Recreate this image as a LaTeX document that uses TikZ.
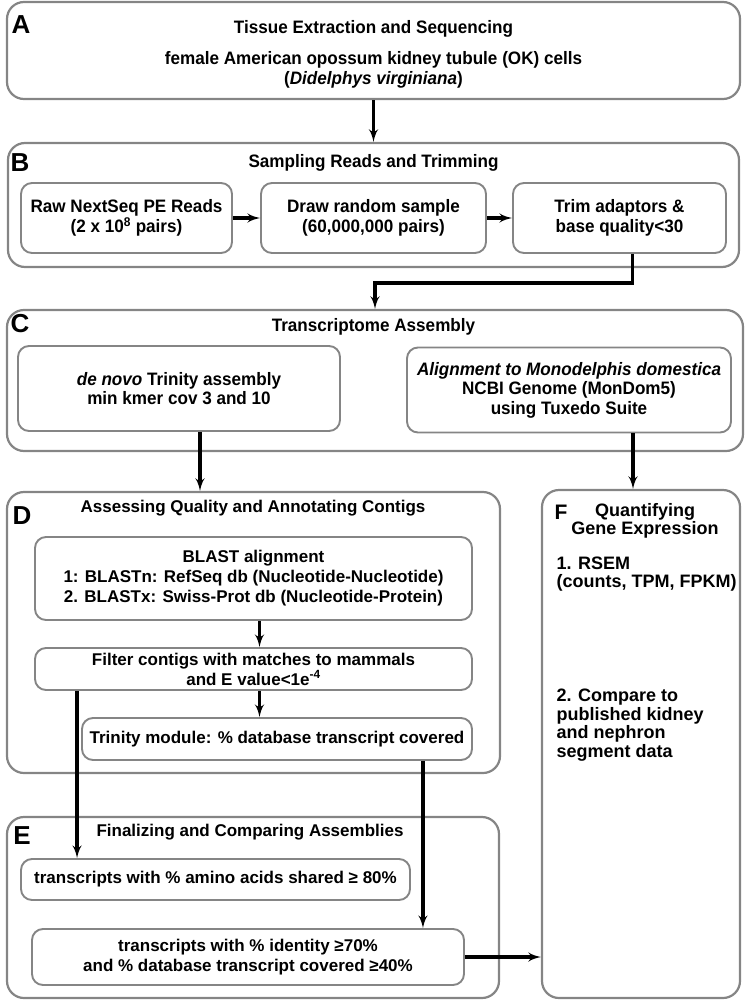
\documentclass[tikz,border=0pt]{standalone}
\usepackage{fontspec}
\setmainfont{Liberation Sans}
\newfontfamily\narrowsf[FakeStretch=0.95]{Liberation Sans}
\usetikzlibrary{arrows,shapes}

\newcommand{\abcfont}{\narrowsf\bfseries\fontsize{18}{19.5}\selectfont}
\newcommand{\deffont}{\bfseries\fontsize{17}{20}\selectfont}
\newcommand{\ffont}{\bfseries\fontsize{18}{18.5}\selectfont}

\begin{document}
\begin{tikzpicture}[x=1pt,y=-1pt,>=latex']
  \tikzstyle{stage}=[draw=black!48,line width=2.2pt,rounded corners=17pt,inner sep=0pt]
  \tikzstyle{task}=[draw=black!48,line width=1.9pt,rounded corners=11pt,inner sep=0pt,align=center]
  \tikzstyle{tag}=[font=\bfseries\fontsize{26}{26}\selectfont]
  \tikzstyle{flow}=[->,line width=3.3pt]
  \useasboundingbox (0,0) rectangle (746,1001);

  % A
  \node [stage,minimum width=733,minimum height=97] (A) at (373.5,50.5) {};
  \node [tag] (tagA) at (21,25) {A};
  \node [font=\abcfont] (titleA) at (373.5,29) {Tissue Extraction and Sequencing};
  \node [font=\abcfont,align=center] (cells) at (373.5,70)
    {female American opossum kidney tubule (OK) cells\\(\textit{Didelphys virginiana})};

  % B
  \node [stage,minimum width=731,minimum height=124] (B) at (373.5,205) {};
  \node [tag] (tagB) at (20,163) {B};
  \node [font=\abcfont] (titleB) at (373.5,163) {Sampling Reads and Trimming};
  \node [task,font=\abcfont,minimum width=211,minimum height=70] (raw) at (126.5,218)
    {Raw NextSeq PE Reads\\(2 x 10\textsuperscript{8} pairs)};
  \node [task,font=\abcfont,minimum width=225,minimum height=70] (sample) at (373.5,218)
    {Draw random sample\\(60,000,000 pairs)};
  \node [task,font=\abcfont,minimum width=213,minimum height=70] (trim) at (619.5,218)
    {Trim adaptors \&\\base quality<30};

  % C
  \node [stage,minimum width=736,minimum height=141] (C) at (375,380.5) {};
  \node [tag] (tagC) at (20,324) {C};
  \node [font=\abcfont] (titleC) at (373.5,327) {Transcriptome Assembly};
  \node [task,font=\abcfont,minimum width=322,minimum height=85] (trinity) at (179,388.5)
    {\textit{de novo} Trinity assembly\\min kmer cov 3 and 10};
  \node [task,font=\abcfont,minimum width=324,minimum height=85] (tuxedo) at (569,390)
    {\textit{Alignment to Monodelphis domestica}\\NCBI Genome (MonDom5)\\using Tuxedo Suite};

  % D
  \node [stage,minimum width=493,minimum height=281] (D) at (253.5,632.5) {};
  \node [tag] (tagD) at (22,516) {D};
  \node [font=\deffont] (titleD) at (253,508) {Assessing Quality and Annotating Contigs};
  \node [task,font=\deffont,minimum width=437,minimum height=83] (blast) at (253.5,578.5)
    {BLAST alignment\\1: BLASTn: RefSeq db (Nucleotide-Nucleotide)\\2. BLASTx: Swiss-Prot db (Nucleotide-Protein)};
  \node [task,font=\deffont,minimum width=437,minimum height=42] (filter) at (253.5,669)
    {Filter contigs with matches to mammals\\and E value<1e\textsuperscript{-4}};
  \node [task,font=\deffont,minimum width=390,minimum height=42] (module) at (277,739)
    {Trinity module: \% database transcript covered};

  % E
  \node [stage,minimum width=492,minimum height=181] (E) at (253,907.5) {};
  \node [tag] (tagE) at (22,836) {E};
  \node [font=\deffont] (titleE) at (250,832) {Finalizing and Comparing Assemblies};
  \node [task,font=\deffont,minimum width=389,minimum height=41] (amino) at (215.5,879.5)
    {transcripts with \% amino acids shared ≥ 80\%};
  \node [task,font=\deffont,minimum width=432,minimum height=56] (identity) at (248,957)
    {transcripts with \% identity ≥70\%\\and \% database transcript covered ≥40\%};

  % F
  \node [stage,minimum width=198,minimum height=508] (F) at (641,744) {};
  \node [font=\bfseries\fontsize{21}{21}\selectfont] (tagF) at (561,512) {F};
  \node [font=\ffont,align=center] (titleF) at (645,521) {Quantifying\\Gene Expression};
  \node [font=\ffont,align=left,anchor=west] (rsem) at (553,574)
    {1. RSEM\\(counts, TPM, FPKM)};
  \node [font=\ffont,align=left,anchor=west] (compare) at (553,725)
    {2. Compare to\\published kidney\\and nephron\\segment data};

  % connectors
  \coordinate (bend) at (375,283);
  \draw [flow] (A) -- (B);
  \draw [flow] (raw) -- (sample);
  \draw [flow] (sample) -- (trim);
  \draw [flow] ([xshift=13pt]trim.south) |- (bend) -- (C.north);
  \draw [flow] ([xshift=21pt]trinity.south) -- ([xshift=21pt]trinity.south |- D.north);
  \draw [flow] ([xshift=64pt]tuxedo.south) -- ([xshift=64pt]tuxedo.south |- F.north);
  \draw [flow] ([xshift=6pt]blast.south) -- ([xshift=6pt]blast.south |- filter.north);
  \draw [flow] ([xshift=6pt]filter.south) -- ([xshift=6pt]filter.south |- module.north);
  \draw [flow] ([xshift=43pt]filter.south west) -- ([xshift=43pt]filter.south west |- amino.north);
  \draw [flow] ([xshift=-50pt]module.south east) -- ([xshift=-50pt]module.south east |- identity.north);
  \draw [flow] (identity.east) -- (identity.east -| F.west);
\end{tikzpicture}
\end{document}
